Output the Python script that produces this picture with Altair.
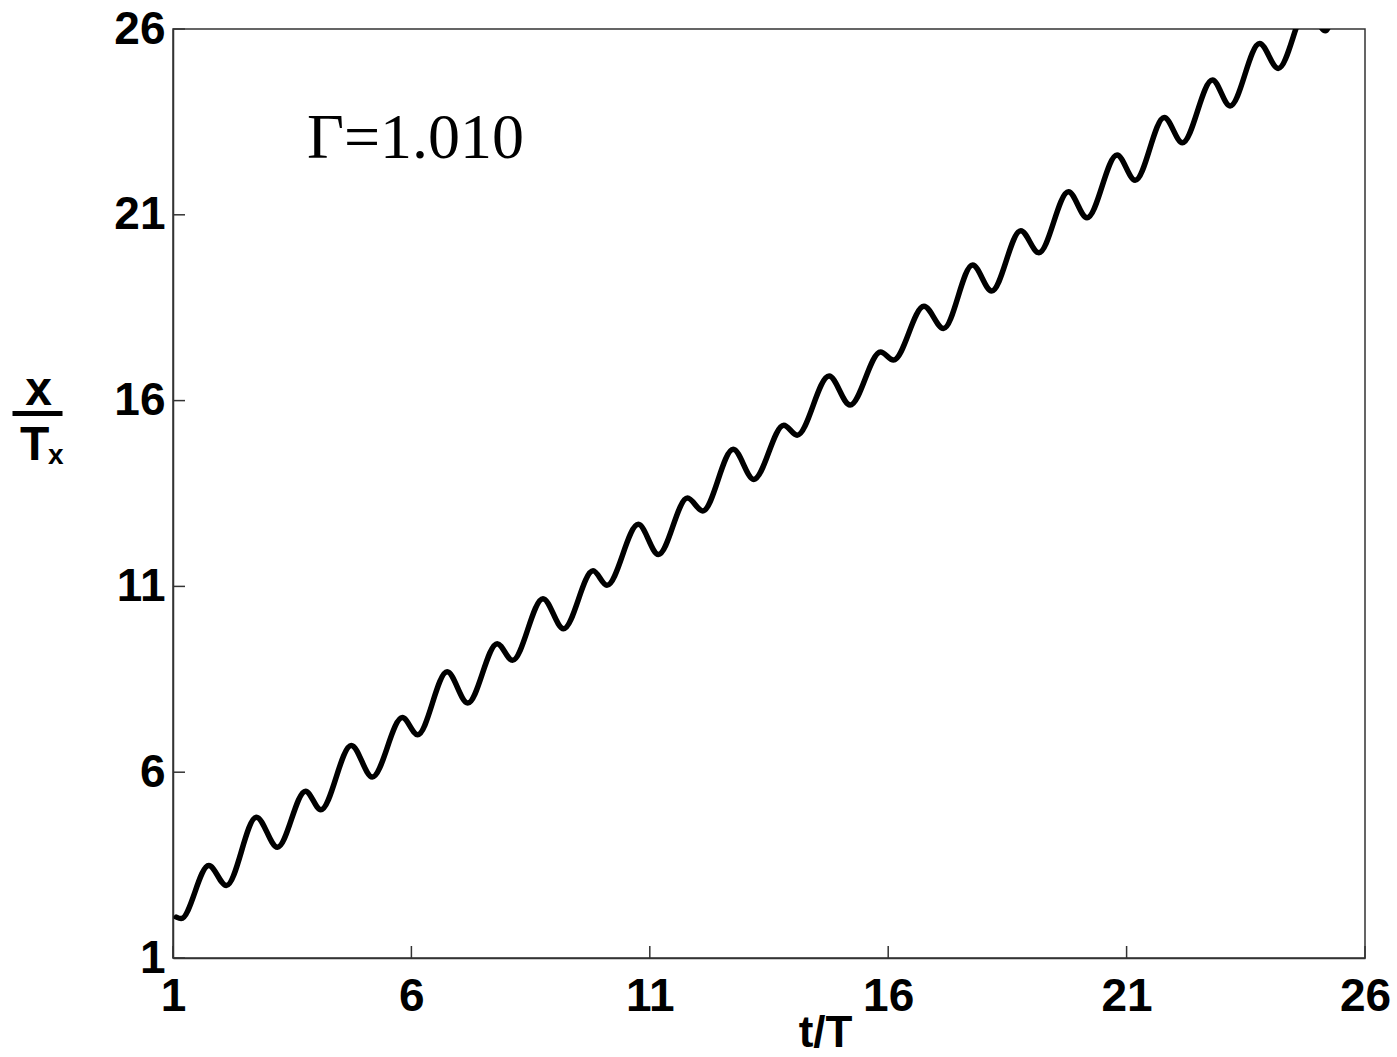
import altair as alt
import pandas as pd

# --- data ---
t_over_T = [1.07, 1.17, 1.75, 2.12, 2.75, 3.19, 3.78, 4.10, 4.74, 5.18, 5.81, 6.13,
            6.75, 7.18, 7.80, 8.12, 8.76, 9.19, 9.81, 10.10, 10.76, 11.18, 11.79, 12.11,
            12.75, 13.18, 13.81, 14.09, 14.76, 15.20, 15.84, 16.11, 16.75, 17.16, 17.77,
            18.17, 18.78, 19.16, 19.78, 20.17, 20.80, 21.18, 21.79, 22.17, 22.80, 23.17,
            23.79, 24.18, 24.80, 25.17, 25.30]
x_over_Tx = [2.10, 2.06, 3.49, 2.95, 4.79, 3.98, 5.49, 4.99, 6.72, 5.87, 7.47, 7.01,
             8.70, 7.86, 9.46, 9.01, 10.67, 9.86, 11.42, 11.03, 12.67, 11.86, 13.38, 13.03,
             14.69, 13.88, 15.34, 15.07, 16.66, 15.88, 17.31, 17.09, 18.54, 17.94, 19.65,
             18.95, 20.57, 19.98, 21.62, 20.92, 22.61, 21.93, 23.62, 22.94, 24.63, 23.93,
             25.61, 24.94, 26.60, 25.95, 26.30]
tick_values = [1, 6, 11, 16, 21, 26]
gamma_label = ["Γ=1.010"]
x_title = "t/T"

df = pd.DataFrame({"t": t_over_T, "x": x_over_Tx})
ticks_df = pd.DataFrame({"v": tick_values})

W, H = 1192, 929
FRAME = "#333333"
SANS = "Liberation Sans"

xscale = alt.Scale(domain=[1, 26], nice=False, zero=False)
yscale = alt.Scale(domain=[1, 26], nice=False, zero=False)

xaxis = alt.Axis(values=tick_values, ticks=False, tickSize=0, grid=False,
                 labelFont=SANS, labelFontSize=46, labelFontWeight="bold",
                 labelColor="black", labelBaseline="alphabetic", labelPadding=52,
                 labelFlush=False, labelOverlap=False,
                 domainColor=FRAME, domainWidth=1.5,
                 title=x_title, titleX=652, titleY=88, titleBaseline="alphabetic",
                 titleFont=SANS, titleFontSize=44, titleFontWeight="bold",
                 titleColor="black")
yaxis = alt.Axis(values=tick_values, ticks=False, tickSize=0, grid=False,
                 labelFont=SANS, labelFontSize=46, labelFontWeight="bold",
                 labelColor="black", labelPadding=8, labelOverlap=False,
                 domainColor=FRAME, domainWidth=1.5, title="")

line = alt.Chart(df).mark_line(
    color="black", strokeWidth=5.5, clip=True, interpolate="monotone",
    strokeCap="round", strokeJoin="round"
).encode(
    x=alt.X("t:Q", scale=xscale, axis=xaxis, title=x_title),
    y=alt.Y("x:Q", scale=yscale, axis=yaxis, title=""),
)

xticks = alt.Chart(ticks_df).mark_rule(color=FRAME, strokeWidth=1.5).encode(
    x=alt.X("v:Q", scale=xscale, axis=xaxis, title=x_title),
    y=alt.value(H), y2=alt.value(H - 12),
)
yticks = alt.Chart(ticks_df).mark_rule(color=FRAME, strokeWidth=1.5).encode(
    y=alt.Y("v:Q", scale=yscale, axis=yaxis, title=""),
    x=alt.value(0), x2=alt.value(12),
)

gamma = alt.Chart(pd.DataFrame({"label": gamma_label})).mark_text(
    font="Liberation Serif", fontSize=64, align="left", baseline="alphabetic",
    color="black"
).encode(x=alt.value(134), y=alt.value(129), text="label:N")

num = alt.Chart(pd.DataFrame({"s": ["x"]})).mark_text(
    font=SANS, fontSize=48, fontWeight="bold", align="center",
    baseline="alphabetic", color="black"
).encode(x=alt.value(-134.5), y=alt.value(376), text="s:N")
bar = alt.Chart(pd.DataFrame({"s": ["bar"]})).mark_rule(
    color="black", strokeWidth=5
).encode(x=alt.value(-160.5), x2=alt.value(-110.5), y=alt.value(384.5))
den = alt.Chart(pd.DataFrame({"s": ["T"]})).mark_text(
    font=SANS, fontSize=48, fontWeight="bold", align="left",
    baseline="alphabetic", color="black"
).encode(x=alt.value(-153), y=alt.value(431), text="s:N")
sub = alt.Chart(pd.DataFrame({"s": ["x"]})).mark_text(
    font=SANS, fontSize=28, fontWeight="bold", align="left",
    baseline="alphabetic", color="black"
).encode(x=alt.value(-125), y=alt.value(435), text="s:N")

chart = alt.layer(line, xticks, yticks, gamma, num, bar, den, sub).properties(
    width=W, height=H,
    autosize=alt.AutoSizeParams(type="none"),
    padding={"left": 173, "top": 29, "right": 32, "bottom": 99},
).configure(background="white").configure_view(stroke=FRAME, strokeWidth=1.5)

chart.save("out.html", embed_options={"renderer": "svg", "actions": False})
